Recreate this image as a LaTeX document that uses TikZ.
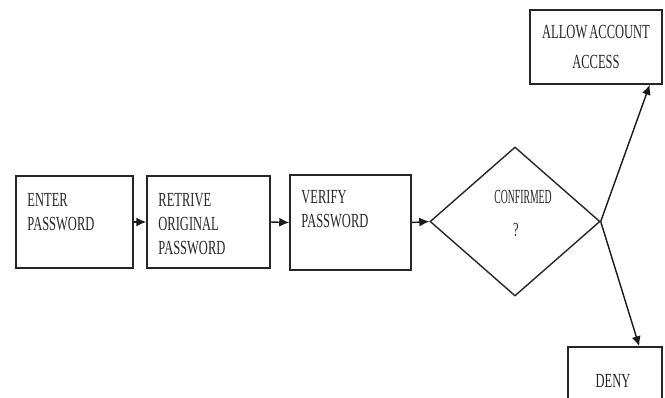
\documentclass[tikz,border=0pt]{standalone}
\usepackage{graphicx}
\usepackage{fontspec}
\setmainfont{Liberation Serif}
\usetikzlibrary{shapes.geometric,arrows.meta,calc}
\newcommand{\stt}[1]{\scalebox{1}[1.6]{#1}}
\newcommand{\sttn}[1]{\scalebox{0.78}[1.6]{#1}}
\begin{document}
\begin{tikzpicture}[x=1pt,y=-1pt,
  box/.style={draw=black!85,line width=1.5pt,rectangle,inner sep=0pt},
  txt/.style={inner sep=0pt,text=black!85,font=\fontsize{12.5}{24}\selectfont,align=left,anchor=north west},
  ctxt/.style={inner sep=0pt,text=black!85,font=\fontsize{12.5}{24}\selectfont},
  arr/.style={draw=black!90,line width=1.4pt,-{Latex[length=10pt,width=9pt]}}]
\useasboundingbox (0,0) rectangle (665,397);
\node[box,minimum width=117pt,minimum height=92pt] (b1) at (74.5,222) {};
\node[box,minimum width=123pt,minimum height=92pt] (b2) at (208.5,222) {};
\node[box,minimum width=121pt,minimum height=95pt] (b3) at (350.5,222.5) {};
\node[draw=black!85,line width=1.4pt,diamond,inner sep=0pt,minimum width=170pt,minimum height=149pt] (d) at (515,221.5) {};
\node[box,minimum width=132pt,minimum height=74pt] (allow) at (596,47) {};
\node[box,minimum width=94pt,minimum height=60pt] (deny) at (615,377) {};
% texts
\node[txt] (t1) at ($(b1.north west)+(12,18)$) {\stt{ENTER}\\\stt{PASSWORD}};
\node[txt] (t2) at ($(b2.north west)+(12,18)$) {\stt{RETRIVE}\\\stt{ORIGINAL}\\\stt{PASSWORD}};
\node[txt] (t3) at ($(b3.north west)+(12,16)$) {\stt{VERIFY}\\\stt{PASSWORD}};
\node[ctxt] (ta1) at (596,32) {\stt{ALLOW\,ACCOUNT}};
\node[ctxt] (ta2) at (596,61.5) {\stt{ACCESS}};
\node[ctxt] (tc1) at (523,197) {\sttn{CONFIRMED}};
\node[ctxt] (tc2) at (516,230) {\stt{?}};
\node[ctxt] (td) at (613,381) {\stt{DENY}};
% connectors
\coordinate (pa) at ($(allow.south east)+(-13,0)$);
\coordinate (pd) at ($(deny.north west)+(72,0)$);
\draw[arr] (b1.east) -- (b2.west);
\draw[arr] (b2.east) -- (b3.west);
\draw[arr] (b3.east) -- (d.west);
\draw[arr] (d.east) -- (pa);
\draw[arr] (d.east) -- (pd);
\end{tikzpicture}
\end{document}
